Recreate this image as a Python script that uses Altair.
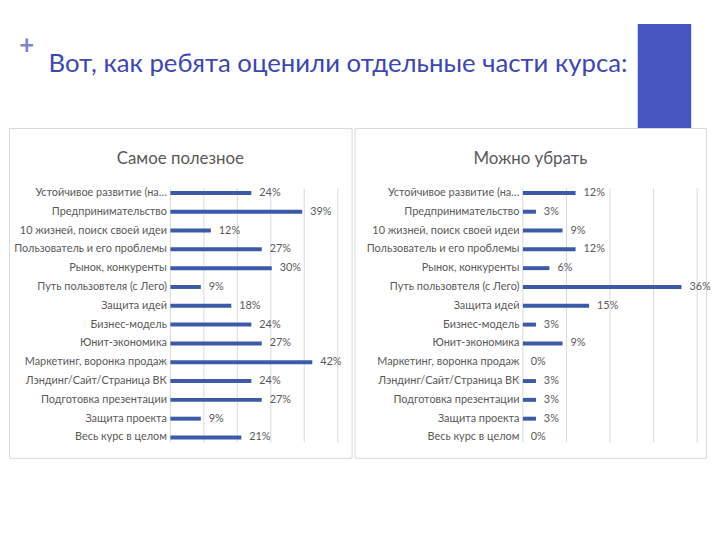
import altair as alt
import pandas as pd

HEADING = "Вот, как ребята оценили отдельные части курса:"
PLUS = "+"
TITLE_LEFT = "Самое полезное"
TITLE_RIGHT = "Можно убрать"

categories = [
    "Устойчивое развитие (на…",
    "Предпринимательство",
    "10 жизней, поиск своей идеи",
    "Пользователь и его проблемы",
    "Рынок, конкуренты",
    "Путь пользовтеля (с Лего)",
    "Защита идей",
    "Бизнес-модель",
    "Юнит-экономика",
    "Маркетинг, воронка продаж",
    "Лэндинг/Сайт/Страница ВК",
    "Подготовка презентации",
    "Защита проекта",
    "Весь курс в целом",
]
# percentages (bar lengths; labels show them rounded)
useful_pct = [24.2, 39.4, 12.1, 27.3, 30.3, 9.1, 18.2, 24.2, 27.3, 42.4, 24.2, 27.3, 9.1, 21.2]
remove_pct = [12.1, 3.0, 9.1, 12.1, 6.1, 36.4, 15.2, 3.0, 9.1, 0.0, 3.0, 3.0, 3.0, 0.0]
grid_left = [0, 10, 20, 30, 40, 50]
grid_right = [0, 10, 20, 30, 40]

FONT = "Lato"
GRAY = "#595959"
BAR = "#3C5AA8"
PANEL_H = 333
Y_RANGE = [56, 322]


def panel(values, title, width, x0, x1, dmax, grid_vals):
    df = pd.DataFrame({"cat": categories, "v": values})
    base = alt.Chart(df)
    xscale = alt.Scale(domain=[0, dmax], range=[x0, x1], nice=False, zero=True)
    yenc = alt.Y(
        "cat:N",
        sort=categories,
        scale=alt.Scale(range=Y_RANGE, paddingInner=0, paddingOuter=0),
        axis=alt.Axis(
            title=None,
            offset=-x0,
            domain=False,
            ticks=False,
            grid=False,
            labelPadding=4,
            labelFont=FONT,
            labelFontSize=11,
            labelColor=GRAY,
            labelLimit=250,
        ),
    )
    grid = (
        alt.Chart(pd.DataFrame({"g": grid_vals}))
        .mark_rule(color="#D9D9D9", strokeWidth=1)
        .encode(
            x=alt.X("g:Q", scale=xscale, axis=None),
            y=alt.Y(datum=categories[0], bandPosition=0.25),
            y2=alt.Y2(datum=categories[-1], bandPosition=0.75),
        )
    )
    bars = base.mark_bar(size=4, color=BAR).encode(
        x=alt.X("v:Q", scale=xscale, axis=None), y=yenc
    )
    labels = (
        base.transform_calculate(lab="format(datum.v, '.0f') + '%'")
        .mark_text(align="left", baseline="middle", dx=8, font=FONT, fontSize=11, color=GRAY)
        .encode(x=alt.X("v:Q", scale=xscale, axis=None), y=alt.Y("cat:N", sort=categories), text="lab:N")
    )
    return alt.layer(grid, bars, labels).properties(
        width=width,
        height=PANEL_H,
        title=alt.TitleParams(
            text=title,
            font=FONT,
            fontSize=17,
            fontWeight="normal",
            color=GRAY,
            anchor="middle",
            frame="group",
            offset=-40,
        ),
    )


left = panel(useful_pct, TITLE_LEFT, 346, 163, 332, 50, grid_left)
right = panel(remove_pct, TITLE_RIGHT, 355, 170, 346, 40, grid_right)

hdr_df = pd.DataFrame({"heading": [HEADING], "plus": [PLUS]})
hbase = alt.Chart(hdr_df)
rect = hbase.mark_rect(color="#4658C0").encode(
    x=alt.value(635), x2=alt.value(689), y=alt.value(0), y2=alt.value(105)
)
plus = hbase.mark_text(
    align="center", baseline="middle", font=FONT, fontSize=26, fontWeight="bold", color="#8084CC"
).encode(x=alt.value(18), y=alt.value(22), text="plus:N")
heading = hbase.mark_text(
    align="left", baseline="alphabetic", font=FONT, fontSize=26, color="#3D47AE"
).encode(x=alt.value(40), y=alt.value(48), text="heading:N")
header = alt.layer(rect, plus, heading).properties(
    width=704, height=105, view=alt.ViewBackground(strokeOpacity=0)
)

chart = (
    alt.vconcat(
        header,
        alt.hconcat(left, right, spacing=3, bounds="flush"),
        spacing=0,
        bounds="flush",
    )
    .properties(padding={"left": 0, "top": 14, "right": 0, "bottom": 0})
    .configure_view(stroke="#D9D9D9", strokeWidth=1)
)

chart.save("out.html", embed_options={"renderer": "svg", "actions": False})
